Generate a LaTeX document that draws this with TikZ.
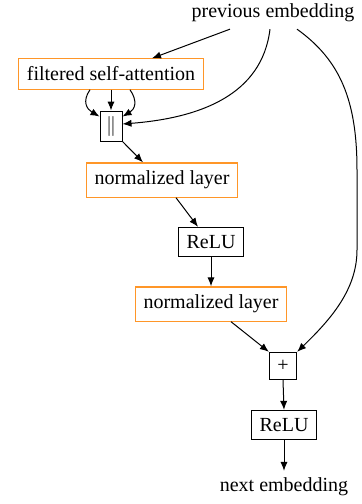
\documentclass[tikz,border=0pt]{standalone}
\usepackage{fontspec}
\setmainfont{Liberation Serif}
\usetikzlibrary{arrows.meta,calc}
\definecolor{boxorange}{RGB}{255,150,40}
\begin{document}
\begin{tikzpicture}[x=0.5pt,y=-0.5pt,
  font=\fontsize{10}{12}\selectfont,
  plainbox/.style={draw=black,line width=0.5pt,inner sep=4pt},
  orangebox/.style={draw=boxorange,line width=0.6pt,inner sep=4pt},
  txt/.style={inner sep=3.33pt},
  arr/.style={-{Latex[length=4.5pt,width=3.6pt]},line width=0.5pt}]
\useasboundingbox (0,0) rectangle (362,504);
\node[txt] (pe) at (273,13) {previous embedding};
\node[orangebox] (fsa) at (111,74) {filtered self-attention};
\node[plainbox,inner xsep=3pt,inner ysep=2.5pt] (cat) at (111,126) {$\|$};
\node[orangebox] (nl1) at (162,180) {normalized layer};
\node[plainbox] (relu1) at (211,242) {ReLU};
\node[orangebox] (nl2) at (211,304) {normalized layer};
\node[plainbox] (plus) at (283,366) {+};
\node[plainbox] (relu2) at (284,425) {ReLU};
\node[txt] (ne) at (284,487) {next embedding};

\draw[arr] ([xshift=-21.5pt]pe.south) -- ([xshift=20.5pt]fsa.north);
\draw[arr] ([xshift=-1.5pt]pe.south) .. controls (262,95) and (200,118) .. ([yshift=1pt]cat.east);
\draw[arr] ([xshift=12pt]pe.south) .. controls (340,60) and (357,100) .. (357,170) -- (357,250) .. controls (357,290) and (330,320) .. (plus.north east);
\draw[arr] ([xshift=-10.5pt]fsa.south) to[out=-125,in=150,looseness=1.3] ([yshift=-3pt]cat.north west);
\draw[arr] (fsa.south) -- (cat.north);
\draw[arr] ([xshift=9.5pt]fsa.south) to[out=-55,in=30,looseness=1.3] ([yshift=-3pt]cat.north east);
\draw[arr] (cat.south east) -- ([xshift=-9.5pt]nl1.north);
\draw[arr] ([xshift=7pt]nl1.south) -- ([xshift=-6.5pt]relu1.north);
\draw[arr] (relu1.south) -- (nl2.north);
\draw[arr] ([xshift=10pt]nl2.south) -- (plus.north west);
\draw[arr] (plus.south) -- (relu2.north);
\draw[arr] (relu2.south) -- (ne.north);
\end{tikzpicture}
\end{document}
